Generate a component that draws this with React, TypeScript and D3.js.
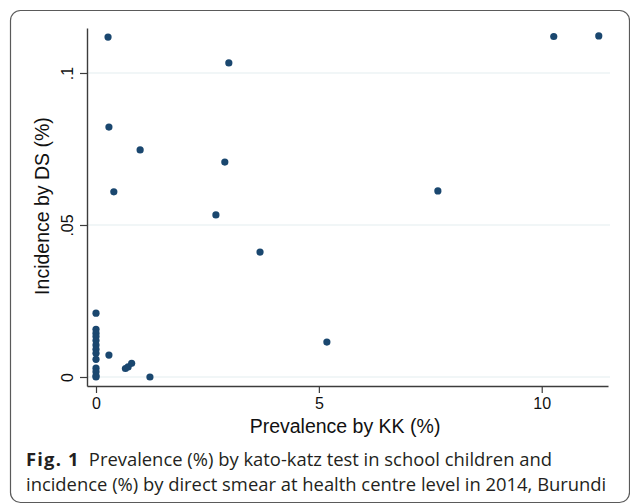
import React, { useEffect, useRef } from "react";
import * as d3 from "d3";

// prevalence by kato-katz (%) and incidence by direct smear (%)
const kk = [
  0.27, 2.98, 10.27, 11.28, 0.29, 0.99, 2.89, 0.4, 7.67, 2.69, 3.68, 5.18, 0.29, 0.66, 0.72, 0.8, 1.21,
  0, 0, 0, 0, 0, 0, 0, 0, 0, 0, 0, 0, 0,
];
const ds = [
  0.1118, 0.1033, 0.112, 0.1122, 0.0822, 0.0747, 0.0707, 0.0609, 0.0612, 0.0533, 0.0411, 0.0115, 0.0072, 0.0028, 0.0033, 0.0045, 0,
  0.021, 0.0157, 0.0144, 0.0133, 0.012, 0.0105, 0.0091, 0.0078, 0.0058, 0.0029, 0.0017, 0.0004, 0,
];
const xTicks = [0, 5, 10];
const yTicks = [0, 0.05, 0.1];
const caption1 = "Prevalence (%) by kato-katz test in school children and";
const caption2 = "incidence (%) by direct smear at health centre level in 2014, Burundi";

export default function App() {
  const ref = useRef<SVGSVGElement>(null);
  useEffect(() => {
    const node = ref.current;
    if (!node) return;
    const svg = d3.select(node);
    svg.selectAll("*").remove();
    const w = 630, h = 504;
    const axisFont = "'Liberation Sans', Arial, sans-serif";
    const capFont = "'Open Sans', sans-serif";
    const ink = "#3c3c3c";

    svg.append("rect").attr("x", 10.5).attr("y", 10.5).attr("width", 619).attr("height", 492)
      .attr("rx", 10).attr("fill", "#fff").attr("stroke", "#5a5a5a").attr("stroke-width", 1.2);

    const x = d3.scaleLinear().domain([-0.202, 11.487]).range([87, 608]);
    const y = d3.scaleLinear().domain([-0.00296, 0.1148]).range([386, 28]);

    // grid
    svg.append("g").selectAll("line").data(yTicks).enter().append("line")
      .attr("x1", 87).attr("x2", 610).attr("y1", (d) => y(d)).attr("y2", (d) => y(d))
      .attr("stroke", "#e4eef0").attr("stroke-width", 1.2);

    const fmt = (d: number) => (d === 0 ? "0" : String(d).replace(/^0/, ""));

    const gx = svg.append("g").attr("transform", `translate(0,386)`)
      .call(d3.axisBottom(x).tickValues(xTicks).tickSize(7).tickSizeOuter(0).tickPadding(5).tickFormat((d) => String(d)));
    const gy = svg.append("g").attr("transform", `translate(87,0)`)
      .call(d3.axisLeft(y).tickValues(yTicks).tickSize(7).tickSizeOuter(0).tickFormat((d) => fmt(+d)));
    [gx, gy].forEach((g) => {
      g.select(".domain").attr("stroke", ink).attr("stroke-width", 1.4);
      g.selectAll(".tick line").attr("stroke", ink).attr("stroke-width", 1.2);
      g.selectAll("text").attr("font-family", axisFont).attr("font-size", 16).attr("fill", "#111");
    });
    gy.selectAll(".tick text").attr("transform", "rotate(-90)").attr("text-anchor", "middle")
      .attr("x", 0).attr("y", -14).attr("dy", 0);

    // points
    svg.append("g").selectAll("circle").data(kk).enter().append("circle")
      .attr("cx", (d) => x(d)).attr("cy", (d, i) => y(ds[i])).attr("r", 3.6).attr("fill", "#1a476f");

    // axis titles
    svg.append("text").attr("x", 345).attr("y", 433).attr("text-anchor", "middle")
      .attr("font-family", axisFont).attr("font-size", 19.5).attr("fill", "#111").text("Prevalence by KK (%)");
    svg.append("text").attr("transform", "translate(49,206) rotate(-90)").attr("text-anchor", "middle")
      .attr("font-family", axisFont).attr("font-size", 19.5).attr("fill", "#111").text("Incidence by DS (%)");

    // caption
    const cap = svg.append("text").attr("x", 26).attr("y", 466).attr("font-family", capFont)
      .attr("font-size", 18.4).attr("fill", "#231f20");
    cap.append("tspan").attr("font-weight", "bold").attr("letter-spacing", 1.2).text("Fig. 1");
    cap.append("tspan").attr("dx", 9).text(caption1);
    svg.append("text").attr("x", 26).attr("y", 491).attr("font-family", capFont)
      .attr("font-size", 18.4).attr("fill", "#231f20").text(caption2);
    svg.attr("viewBox", `0 0 ${w} ${h}`);
  }, []);
  return <svg ref={ref} width={630} height={504} style={{ position: "absolute", left: 0, top: 0 }} />;
}
